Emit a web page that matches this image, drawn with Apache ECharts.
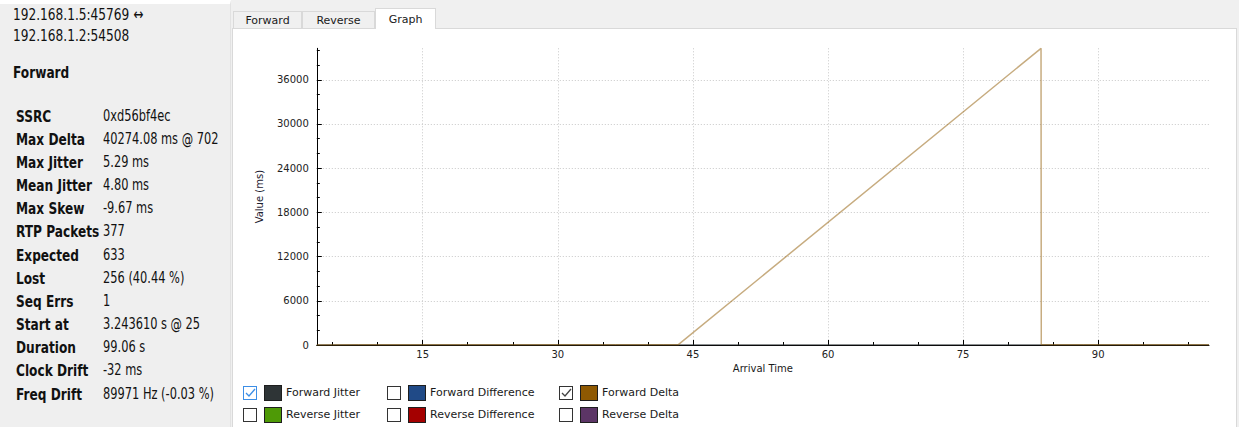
<!DOCTYPE html>
<html>
<head>
<meta charset="utf-8">
<script src="https://cdn.jsdelivr.net/npm/echarts@6/dist/echarts.min.js"></script>
<style>
  html, body { margin: 0; padding: 0; width: 1239px; height: 427px; overflow: hidden; background: #f0f0f0; }
  #info { position: absolute; left: 0; top: 0; width: 231px; height: 427px; background: #efefef;
          border-top: 4px solid #ffffff; box-sizing: border-box; border-right: 1px solid #e2e2e2;
          font-family: "DejaVu Sans", sans-serif; color: #111; }
  .hdr { position: absolute; left: 13px; font-size: 16px; line-height: 20px; white-space: nowrap;
         transform: scaleX(0.76); transform-origin: 0 50%; }
  .row { position: absolute; left: 16px; height: 23px; line-height: 23px; white-space: nowrap; }
  .row .k { position: absolute; left: 0; font-weight: bold; font-size: 16px; transform: scaleX(0.76); transform-origin: 0 50%; }
  .row .v { position: absolute; left: 87px; font-size: 15px; transform: scaleX(0.76); transform-origin: 0 50%; }
  .tab { position: absolute; top: 11px; height: 17px; box-sizing: border-box; border: 1px solid #d9d9d9; border-bottom: none;
         background: #f0f0f0; font-family: "DejaVu Sans", sans-serif; font-size: 11px; line-height: 17px; text-align: center; color: #1a1a1a; }
  .tab.sel { top: 8px; height: 21px; background: #ffffff; line-height: 21px; z-index: 2; }
  #pane { position: absolute; left: 232px; top: 28px; width: 1005px; height: 399px; background: #ffffff;
          border: 1px solid #d9d9d9; border-bottom: none; box-sizing: border-box; }
  #chart { position: absolute; left: 232px; top: 28px; width: 1005px; height: 399px; }
  .lg { position: absolute; height: 16px; font-family: "DejaVu Sans", sans-serif; font-size: 11px; line-height: 16px; color: #1a1a1a; white-space: nowrap; }
  .lg .box { position: absolute; left: 0; top: 1px; width: 14px; height: 14px; box-sizing: border-box; border: 1px solid #333; background: #fff; }
  .lg .box.focus { border-color: #3c8ee6; }
  .lg .sw { position: absolute; left: 21px; top: 0; width: 18px; height: 16px; box-sizing: border-box; border: 1px solid #1e1e1e; }
  .lg .tx { position: absolute; left: 43px; top: 0; }
</style>
</head>
<body>
<div id="info"></div>
<div id="tabs"></div>
<div id="pane"></div>
<div id="chart"></div>
<div id="legend"></div>
<script>
// Stream endpoints and summary figures shown in the side panel
const streamLines = ['192.168.1.5:45769 \u2194', '192.168.1.2:54508'];
const sectionTitle = 'Forward';
const statLabels = ['SSRC', 'Max Delta', 'Max Jitter', 'Mean Jitter', 'Max Skew', 'RTP Packets', 'Expected',
                    'Lost', 'Seq Errs', 'Start at', 'Duration', 'Clock Drift', 'Freq Drift'];
const statValues = ['0xd56bf4ec', '40274.08 ms @ 702', '5.29 ms', '4.80 ms', '-9.67 ms', '377', '633',
                    '256 (40.44 %)', '1', '3.243610 s @ 25', '99.06 s', '-32 ms', '89971 Hz (-0.03 %)'];

// Tabs above the plot
const tabNames = ['Forward', 'Reverse', 'Graph'];

// Series toggles under the plot
const legendNames = ['Forward Jitter', 'Forward Difference', 'Forward Delta',
                     'Reverse Jitter', 'Reverse Difference', 'Reverse Delta'];
const legendColors = ['#2e3436', '#204a87', '#8f5902', '#4e9a06', '#a40000', '#5c3566'];
const legendChecked = [true, false, true, false, false, false];

// Arrival time (s) of the sampled packets and their per-packet measurements (ms)
const arrivalTime   = [3.24, 7.9, 13.6, 19.2, 25.1, 30.8, 36.4, 41.7, 43.35, 83.65, 83.68, 88.4, 93.9, 98.7, 102.30];
const forwardDelta  = [0, 20.1, 19.8, 20.3, 20.0, 19.7, 20.2, 19.9, 20.0, 40274.08, 20.0, 19.9, 20.1, 20.0, 20.0];
const forwardJitter = [0, 4.9, 5.1, 4.8, 4.7, 5.0, 4.9, 5.29, 4.8, 4.6, 4.7, 4.8, 4.7, 4.8, 4.8];

// Axis extents and tick positions
const timeStart = 3.24361;
const timeEnd = 102.30;
const timeMajor = [15, 30, 45, 60, 75, 90];
const timeMinor = [5, 10, 20, 25, 35, 40, 50, 55, 65, 70, 80, 85, 95, 100];
const valueMax = 40274.08;
const valueMajor = [0, 6000, 12000, 18000, 24000, 30000, 36000];
const valueMinor = [2000, 4000, 8000, 10000, 14000, 16000, 20000, 22000, 26000, 28000, 32000, 34000, 38000, 40000];

// ---- side panel ----
const info = document.getElementById('info');
streamLines.forEach((t, i) => {
  const d = document.createElement('div');
  d.className = 'hdr';
  d.style.top = (1 + i * 21) + 'px';
  d.textContent = t;
  info.appendChild(d);
});
const st = document.createElement('div');
st.className = 'hdr';
st.style.top = '59px';
st.style.fontWeight = 'bold';
st.textContent = sectionTitle;
info.appendChild(st);
statLabels.forEach((k, i) => {
  const r = document.createElement('div');
  r.className = 'row';
  r.style.top = (100.5 + i * 23.17) + 'px';
  r.innerHTML = '<span class="k"></span><span class="v"></span>';
  r.children[0].textContent = k;
  r.children[1].textContent = statValues[i];
  info.appendChild(r);
});

// ---- tabs ----
const tabBox = document.getElementById('tabs');
const tabX = [233, 302, 375];
const tabW = [69, 73, 61];
tabNames.forEach((n, i) => {
  const t = document.createElement('div');
  t.className = 'tab' + (i === 2 ? ' sel' : '');
  t.style.left = tabX[i] + 'px';
  t.style.width = tabW[i] + 'px';
  t.textContent = n;
  tabBox.appendChild(t);
});

// ---- toggles ----
const lg = document.getElementById('legend');
const colX = [243, 387, 559];
const rowY = [385, 407];
legendNames.forEach((n, i) => {
  const c = i % 3, r = Math.floor(i / 3);
  const e = document.createElement('div');
  e.className = 'lg';
  e.style.left = colX[c] + 'px';
  e.style.top = rowY[r] + 'px';
  const tick = legendChecked[i]
    ? '<svg width="12" height="12" style="position:absolute;left:0;top:0"><polyline points="2,6 5,9 11,2" fill="none" stroke="' +
      (i === 0 ? '#3c8ee6' : '#444') + '" stroke-width="1.3"/></svg>'
    : '';
  e.innerHTML = '<div class="box' + (i === 0 ? ' focus' : '') + '">' + tick + '</div>' +
                '<div class="sw" style="background:' + legendColors[i] + '"></div><div class="tx"></div>';
  e.querySelector('.tx').textContent = n;
  lg.appendChild(e);
});

// ---- plot ----
const chart = echarts.init(document.getElementById('chart'), null, { renderer: 'svg' });
const fontFamily = '"DejaVu Sans", Verdana, sans-serif';
const grid = { left: 84.8, right: 28, top: 20.3, bottom: 82 };
const pairs = (xs, ys) => xs.map((x, i) => [x, ys[i]]);
const plain = v => String(v);

chart.setOption({
  animation: false,
  backgroundColor: 'transparent',
  grid: grid,
  xAxis: [
    {
      type: 'value', min: timeStart, max: timeEnd, z: 3,
      name: 'Arrival Time', nameLocation: 'middle', nameGap: 15,
      nameTextStyle: { fontFamily: fontFamily, fontSize: 10, color: '#1a1a1a' },
      axisLine: { show: true, onZero: false, lineStyle: { color: '#000', width: 1 } },
      axisTick: { show: true, inside: true, length: 5, customValues: timeMajor, lineStyle: { color: '#000' } },
      axisLabel: { customValues: timeMajor, formatter: plain, margin: 4, fontFamily: fontFamily, fontSize: 10, color: '#222' },
      splitLine: { show: true, lineStyle: { color: 'rgb(200,200,200)', type: [1, 2], width: 1 } }
    },
    {
      type: 'value', min: timeStart, max: timeEnd, position: 'bottom', z: 3,
      axisLine: { show: false },
      axisTick: { show: true, inside: true, length: 3, customValues: timeMinor, lineStyle: { color: '#000' } },
      axisLabel: { show: false },
      splitLine: { show: false }
    }
  ],
  yAxis: [
    {
      type: 'value', min: 0, max: valueMax,
      name: 'Value (ms)', nameLocation: 'middle', nameGap: 52,
      nameTextStyle: { fontFamily: fontFamily, fontSize: 10, color: '#1c2030' },
      axisLine: { show: true, onZero: false, lineStyle: { color: '#000', width: 1 } },
      axisTick: { show: true, inside: true, length: 5, customValues: valueMajor, lineStyle: { color: '#000' } },
      axisLabel: { customValues: valueMajor, formatter: plain, margin: 8, fontFamily: fontFamily, fontSize: 10, color: '#222' },
      splitLine: { show: true, lineStyle: { color: 'rgb(200,200,200)', type: [1, 2], width: 1 } }
    },
    {
      type: 'value', min: 0, max: valueMax, position: 'left',
      axisLine: { show: false },
      axisTick: { show: true, inside: true, length: 3, customValues: valueMinor, lineStyle: { color: '#000' } },
      axisLabel: { show: false },
      splitLine: { show: false }
    }
  ],
  series: [
    {
      name: 'Forward Jitter', type: 'line', data: pairs(arrivalTime, forwardJitter),
      showSymbol: false, symbol: 'none',
      lineStyle: { color: legendColors[0], width: 1 }
    },
    {
      name: 'Forward Delta', type: 'line', data: pairs(arrivalTime, forwardDelta),
      showSymbol: false, symbol: 'none',
      lineStyle: { color: legendColors[2], width: 1.5, opacity: 0.5 }
    }
  ]
});
</script>
</body>
</html>
